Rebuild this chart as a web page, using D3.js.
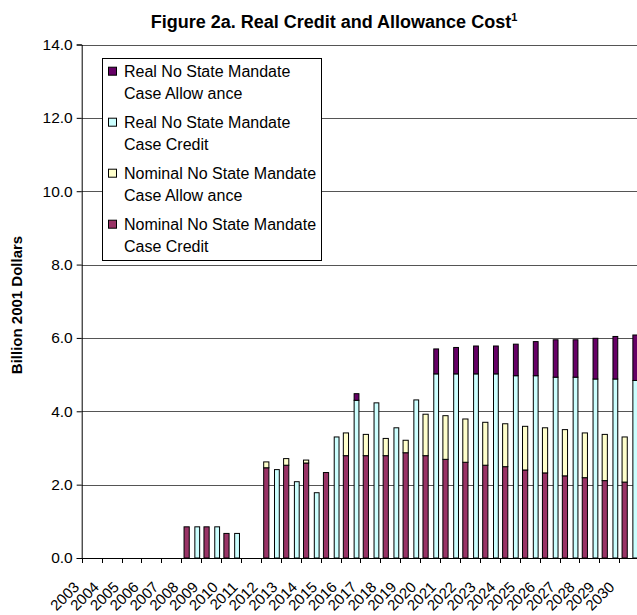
<!DOCTYPE html>
<html>
<head>
<meta charset="utf-8">
<script src="https://cdn.jsdelivr.net/npm/d3@7"></script>
<style>
  html, body { margin: 0; padding: 0; background: #fff; }
  svg { display: block; font-family: "Liberation Sans", Arial, sans-serif; }
</style>
</head>
<body>
<svg id="chart" width="637" height="615"></svg>
<script>
// Categories and series (billion 2001 dollars)
const years = ["2003","2004","2005","2006","2007","2008","2009","2010","2011","2012","2013","2014","2015","2016","2017","2018","2019","2020","2021","2022","2023","2024","2025","2026","2027","2028","2029","2030"];
const nominalCredit    = [0,0,0,0,0,0.85,0.85,0.67,0,2.46,2.53,2.59,2.33,2.79,2.79,2.79,2.87,2.79,2.69,2.61,2.53,2.49,2.40,2.32,2.24,2.19,2.11,2.07];
const nominalAllowance = [0,0,0,0,0,0,0,0,0,0.16,0.18,0.08,0,0.62,0.58,0.47,0.34,1.13,1.19,1.18,1.17,1.17,1.19,1.23,1.26,1.22,1.26,1.23];
const realCredit       = [0,0,0,0,0,0.85,0.85,0.67,0,2.41,2.08,1.78,3.30,4.30,4.23,3.55,4.31,5.02,5.02,5.02,5.02,4.97,4.97,4.93,4.93,4.88,4.88,4.84];
const realAllowance    = [0,0,0,0,0,0,0,0,0,0,0,0,0,0.18,0,0,0,0.68,0.72,0.76,0.76,0.86,0.93,1.02,1.02,1.11,1.16,1.24];
const yTicks = [0,2,4,6,8,10,12,14];

const legendItems = [
  { lines: ["Real No State Mandate", "Case Allow ance"], color: "#660066" },
  { lines: ["Real No State Mandate", "Case Credit"], color: "#CCFFFF" },
  { lines: ["Nominal No State Mandate", "Case Allow ance"], color: "#FFFFCC" },
  { lines: ["Nominal No State Mandate", "Case Credit"], color: "#993366" }
];

const svg = d3.select("#chart");
const plotLeft = 81.7, band = 19.91;
const plotRight = plotLeft + band * years.length;
const plotTop = 44.5, plotBottom = 558;

const x = d3.scaleBand().domain(years).range([plotLeft, plotRight]).paddingInner(0).paddingOuter(0);
const y = d3.scaleLinear().domain([0, 14]).range([plotBottom, plotTop]);

// Horizontal gridlines
svg.append("g").selectAll("line").data(yTicks.filter(d => d > 0)).join("line")
  .attr("x1", plotLeft).attr("x2", plotRight)
  .attr("y1", d => Math.round(y(d)) + 0.5).attr("y2", d => Math.round(y(d)) + 0.5)
  .attr("stroke", "#555").attr("stroke-width", 1.2);

// Stacked bars: nominal pair on the left of each year, real pair on the right
const rows = years.map((yr, i) => ({
  year: yr,
  nCredit: nominalCredit[i], nAllow: nominalAllowance[i],
  rCredit: realCredit[i], rAllow: realAllowance[i]
}));
const groups = [
  { keys: ["nCredit", "nAllow"], colors: ["#993366", "#FFFFCC"], offset: 2.8, width: 5.2 },
  { keys: ["rCredit", "rAllow"], colors: ["#CCFFFF", "#660066"], offset: 13.6, width: 4.8 }
];
groups.forEach(g => {
  const stacked = d3.stack().keys(g.keys)(rows);
  stacked.forEach((layer, li) => {
    svg.append("g").selectAll("rect").data(layer.filter(d => d[1] - d[0] > 0)).join("rect")
      .attr("x", d => x(d.data.year) + g.offset)
      .attr("width", g.width)
      .attr("y", d => y(d[1]))
      .attr("height", d => y(d[0]) - y(d[1]))
      .attr("fill", g.colors[li])
      .attr("stroke", "#000").attr("stroke-width", 1);
  });
});

// Y axis
const yAxis = d3.axisLeft(y).tickValues(yTicks).tickFormat(d3.format(".1f")).tickSize(5).tickPadding(4);
const gy = svg.append("g").attr("transform", `translate(${plotLeft},0)`).call(yAxis);
gy.select(".domain").attr("stroke", "#000");
gy.selectAll("text").attr("font-size", 15.5).attr("fill", "#000").attr("font-family", "Liberation Sans, Arial, sans-serif");

// X axis: ticks at category boundaries
const boundaries = d3.range(years.length + 1).map(i => plotLeft + i * band);
svg.append("line").attr("x1", plotLeft).attr("x2", plotRight).attr("y1", plotBottom + 0.5).attr("y2", plotBottom + 0.5)
  .attr("stroke", "#000");
svg.append("g").selectAll("line").data(boundaries).join("line")
  .attr("x1", d => Math.round(d) + 0.5).attr("x2", d => Math.round(d) + 0.5)
  .attr("y1", plotBottom).attr("y2", plotBottom + 5).attr("stroke", "#000");

// Rotated year labels
svg.append("g").selectAll("text").data(years).join("text")
  .attr("transform", (d, i) => `translate(${plotLeft - 1.5 + i * 19.82},${588}) rotate(-45)`)
  .attr("text-anchor", "end")
  .attr("font-size", 15)
  .attr("fill", "#000")
  .text(d => d);

// Y axis title
svg.append("text")
  .attr("transform", "translate(22,305) rotate(-90)")
  .attr("text-anchor", "middle")
  .attr("font-size", 15)
  .attr("font-weight", "bold")
  .text("Billion 2001 Dollars");

// Chart title
const title = svg.append("text")
  .attr("x", 334).attr("y", 28)
  .attr("text-anchor", "middle")
  .attr("font-size", 18)
  .attr("font-weight", "bold");
title.append("tspan").text("Figure 2a. Real Credit and Allowance Cost");
title.append("tspan").attr("font-size", 11).attr("dy", -7).text("1");

// Legend
const lg = svg.append("g");
lg.append("rect").attr("x", 102.5).attr("y", 58.5).attr("width", 219).attr("height", 202)
  .attr("fill", "#fff").attr("stroke", "#000");
legendItems.forEach((item, i) => {
  const cy = 71.7 + i * 51;
  lg.append("rect").attr("x", 108.5).attr("y", cy - 4.5).attr("width", 8).attr("height", 8)
    .attr("fill", item.color).attr("stroke", "#000");
  item.lines.forEach((ln, j) => {
    lg.append("text").attr("x", 124).attr("y", cy + 5.7 + j * 21.5)
      .attr("font-size", 16).attr("fill", "#000").text(ln);
  });
});
</script>
</body>
</html>
